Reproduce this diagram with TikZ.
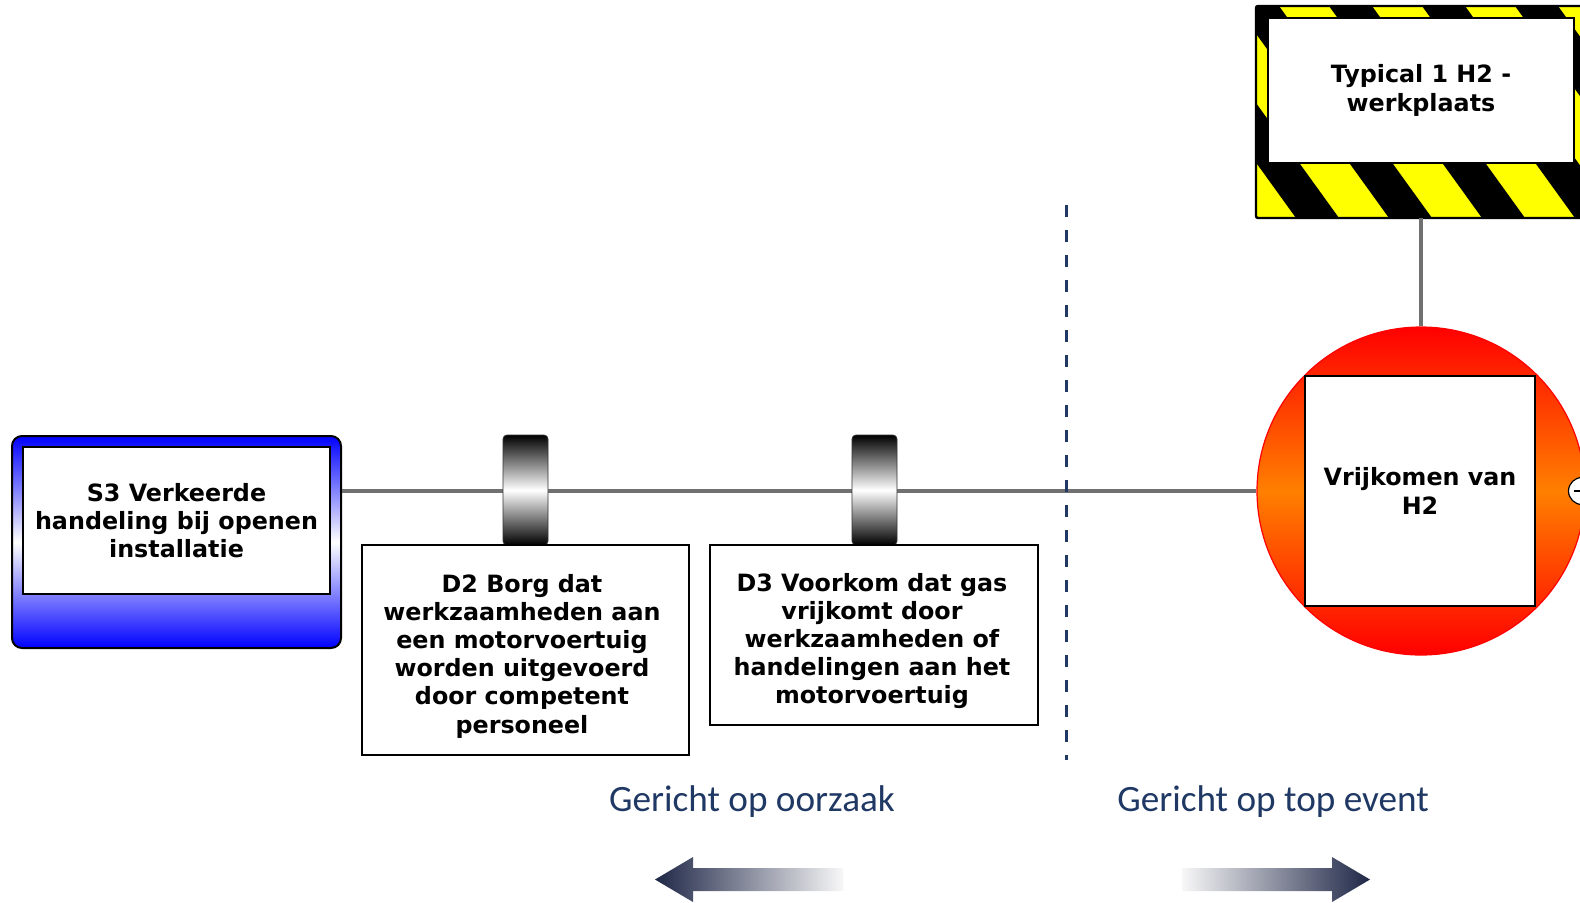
\documentclass[tikz,border=0pt]{standalone}
\usepackage{fontspec}
\setmainfont{DejaVu Sans}
\newfontfamily\capfont{Carlito}
\definecolor{navy}{HTML}{1F3864}
\definecolor{arrowdark}{HTML}{1F2747}
\definecolor{linkgrey}{HTML}{707070}
\definecolor{hzyellow}{HTML}{FFFF00}
\begin{document}
\begin{tikzpicture}[x=0.5pt,y=-0.5pt,
	boxtext/.style={font=\fontsize{11.9}{14.1}\selectfont\bfseries, align=center},
	whitebox/.style={draw=black, line width=0.8pt, fill=white, boxtext},
	threat/.style={draw=black, line width=1pt, rounded corners=5pt, top color=blue, bottom color=blue, middle color=white},
	barrier/.style={draw=black!80, thin, rounded corners=2pt, top color=black, bottom color=black, middle color=white, minimum width=22.5pt, minimum height=55pt},
	topcircle/.style={circle, draw=red, line width=0.6pt, top color=red, bottom color=red, middle color=orange, minimum size=164pt},
	link/.style={linkgrey, line width=2pt},
	divider/.style={navy, line width=1.5pt, dash pattern=on 6pt off 6.5pt},
	caption/.style={font=\capfont\fontsize{18.6}{22}\selectfont, text=navy}]
	\useasboundingbox (0,0) rectangle (1580,902);
	\clip (0,0) rectangle (1580,902);
	%-- threat
	\node[threat, minimum width=164.5pt, minimum height=106pt] (S3out) at (176.5,542) {};
	\node[whitebox, minimum width=153.5pt, minimum height=73.5pt] (S3) at (176.5,520.5) {S3 Verkeerde\\handeling bij openen\\installatie};
	%-- top event
	\node[topcircle] (topev) at (1421,491) {};
	\node[whitebox, minimum size=115pt] (top) at (1420,491) {Vrijkomen van\\H2};
	\node[circle, draw=black, fill=white, line width=0.6pt, minimum size=13.5pt] (collapse) at (1582,491) {};
	\draw[line width=0.8pt] ([xshift=-4pt]collapse.center) -- ([xshift=4pt]collapse.center);
	%-- hazard
	\node[minimum width=165pt, minimum height=106pt] (hazout) at (1421,112) {};
	\begin{scope}
		\clip (1256,6) rectangle (1586,218);
		\fill[hzyellow] (1256,6) rectangle (1586,218);
		\foreach \x in {1050,1143,...,1700}
			\fill[black] (\x,6) -- ++(43,0) -- ++(153,212) -- ++(-43,0) -- cycle;
	\end{scope}
	\draw[black, line width=1.2pt, rounded corners=1pt] (1256,6) rectangle (1586,218);
	\node[whitebox, minimum width=153pt, minimum height=72.5pt] (haz) at (1421,90.5) {Typical 1 H2 -\\werkplaats};
	%-- connectors
	\draw[link] (hazout.south) -- (topev.north);
	\draw[link] (S3out.east |- topev.west) -- (topev.west);
	%-- barriers
	\node[barrier] (D2b) at (525.5,490) {};
	\node[whitebox, minimum width=163.5pt, minimum height=105pt] (D2) at (525.5,650) {};
	\node[boxtext] (D2txt) at (522,656) {D2 Borg dat\\werkzaamheden aan\\een motorvoertuig\\worden uitgevoerd\\door competent\\personeel};
	\node[barrier] (D3b) at (874.5,490) {};
	\node[whitebox, minimum width=164pt, minimum height=90pt] (D3) at (874,635) {};
	\node[boxtext] (D3txt) at (872,641) {D3 Voorkom dat gas\\vrijkomt door\\werkzaamheden of\\handelingen aan het\\motorvoertuig};
	%-- divider
	\coordinate (divtop) at (1066,205);
	\coordinate (divbot) at (1066,760);
	\draw[divider] (divtop) -- (divbot);
	%-- captions
	\node[caption] (cause) at (752,802) {Gericht op oorzaak};
	\node[caption] (topfocus) at (1273,802) {Gericht op top event};
	\shade[left color=arrowdark, right color=white!97!black] (655,879.5) -- (693,857) -- (693,868) -- (843,868) -- (843,891) -- (693,891) -- (693,902) -- cycle;
	\shade[left color=white!97!black, right color=arrowdark] (1370,879.5) -- (1332,857) -- (1332,868) -- (1182,868) -- (1182,891) -- (1332,891) -- (1332,902) -- cycle;
\end{tikzpicture}
\end{document}
